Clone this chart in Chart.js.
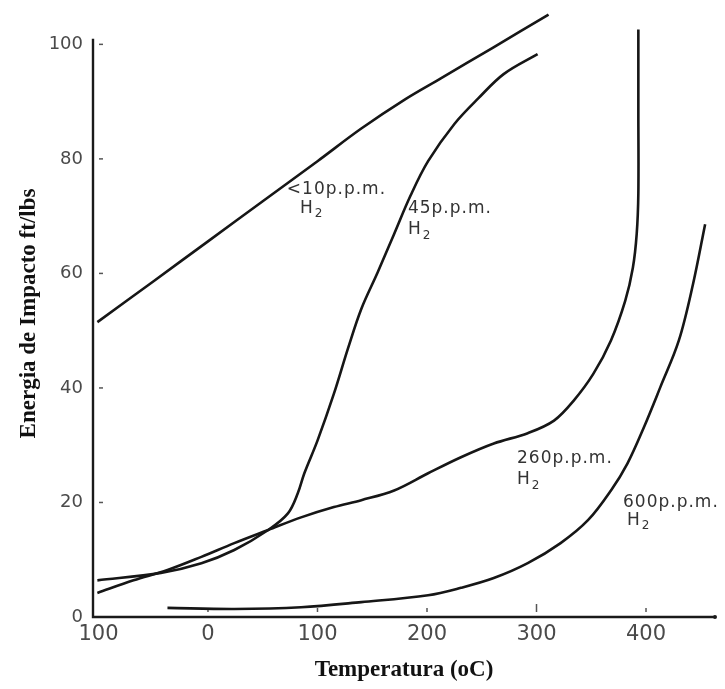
<!DOCTYPE html>
<html>
<head>
<meta charset="utf-8">
<script src="https://cdn.jsdelivr.net/npm/chart.js@4.4.1/dist/chart.umd.min.js"></script>
<style>
  html, body { margin: 0; padding: 0; background: #fff; }
  #wrap { width: 725px; height: 689px; }
</style>
</head>
<body>
<div id="wrap"><canvas id="c" width="725" height="689"></canvas></div>
<script>
// temperatura (oC) / energia (ft/lbs)
const h10 = [[-101,51.5],[-50,58.6],[0,65.6],[50,72.6],[100,79.6],[140,85.3],[180,90.4],[213,94.1],[260,99.4],[311,105.2]];
const h45 = [[-101,6.4],[-43,7.7],[-6,9.4],[24,11.7],[55,15.2],[73,18.1],[82,21.6],[88,25.1],[100,30.8],[115,39.0],[128,47.0],[140,53.8],[155,60.2],[170,66.9],[185,73.6],[201,79.6],[225,86.1],[247,90.6],[270,94.8],[301,98.3]];
const h260 = [[-101,4.2],[-68,6.4],[-37,8.2],[-6,10.5],[24,12.9],[55,15.2],[85,17.4],[115,19.2],[140,20.4],[170,22.1],[201,25.1],[231,27.9],[261,30.3],[292,32.1],[316,34.3],[334,37.8],[352,42.5],[368,48.3],[381,55.2],[388,61.0],[391.5,66.9],[393,74],[393,88],[393,102.6]];
const h600 = [[-37,1.6],[24,1.4],[85,1.7],[140,2.6],[201,3.8],[231,5.1],[261,6.8],[292,9.4],[322,12.9],[347,16.9],[368,22.1],[383,26.8],[398,33.1],[413,40.1],[430,48.3],[443,58.2],[454,68.6]];

const xTickValues = [-100, 0, 100, 200, 300, 400];
const xTickLabels = ['100', '0', '100', '200', '300', '400'];
const yTickValues = [0, 20, 40, 60, 80, 100];

// rotulos de las curvas: [texto, x, y, x de H2, y de H2]
const curveLabels = [
  ['<10p.p.m.', 72, 74.6, 84, 71.4],
  ['45p.p.m.', 182.6, 71.3, 182.6, 67.6],
  ['260p.p.m.', 282.2, 27.7, 282.2, 24.0],
  ['600p.p.m.', 379, 19.9, 382.6, 16.9]
];

const toPts = arr => arr.map(p => ({ x: p[0], y: p[1] }));
const lineStyle = { borderColor: '#161616', borderWidth: 2.6, pointRadius: 0, showLine: true, tension: 0.35, fill: false };

const decor = {
  id: 'decor',
  beforeDatasetsDraw(chart) {
    const { ctx, scales: { x, y } } = chart;
    const ax = x.left, ay = y.getPixelForValue(0);
    ctx.save();
    ctx.strokeStyle = '#1a1a1a';
    ctx.lineWidth = 2.4;
    ctx.beginPath();
    ctx.moveTo(ax, y.getPixelForValue(101));
    ctx.lineTo(ax, ay);
    ctx.lineTo(x.right, ay);
    ctx.stroke();
    ctx.fillStyle = '#1a1a1a';
    ctx.beginPath();
    ctx.arc(x.right, ay, 2, 0, Math.PI * 2);
    ctx.fill();
    // marcas cortas
    ctx.strokeStyle = '#555';
    ctx.lineWidth = 1.5;
    yTickValues.forEach(v => {
      if (v === 0) return;
      const py = y.getPixelForValue(v);
      ctx.beginPath();
      ctx.moveTo(ax + 6, py);
      ctx.lineTo(ax + 10, py);
      ctx.stroke();
    });
    xTickValues.forEach(v => {
      if (v < 0) return;
      const px = x.getPixelForValue(v);
      ctx.beginPath();
      ctx.moveTo(px, ay - 5);
      ctx.lineTo(px, ay - (v === 300 ? 13 : 9));
      ctx.stroke();
    });
    ctx.restore();
  },
  afterDatasetsDraw(chart) {
    const { ctx, scales: { x, y } } = chart;
    ctx.save();
    ctx.fillStyle = '#333';
    ctx.textBaseline = 'middle';
    ctx.textAlign = 'left';
    ctx.letterSpacing = '1px';
    curveLabels.forEach(([txt, lx, ly, hx, hy]) => {
      ctx.font = '17px "DejaVu Sans"';
      ctx.fillText(txt, x.getPixelForValue(lx), y.getPixelForValue(ly));
      const px = x.getPixelForValue(hx), py = y.getPixelForValue(hy);
      ctx.fillText('H', px, py);
      const w = ctx.measureText('H').width;
      ctx.font = '12px "DejaVu Sans"';
      ctx.fillText('2', px + w + 1, py + 6);
    });
    ctx.restore();
  }
};

new Chart(document.getElementById('c'), {
  type: 'scatter',
  data: {
    datasets: [
      { label: '<10 ppm', data: toPts(h10), ...lineStyle },
      { label: '45 ppm', data: toPts(h45), ...lineStyle },
      { label: '260 ppm', data: toPts(h260), ...lineStyle },
      { label: '600 ppm', data: toPts(h600), ...lineStyle }
    ]
  },
  options: {
    responsive: false,
    animation: false,
    layout: { padding: { top: 10, right: 10, left: 0, bottom: 0 } },
    plugins: { legend: { display: false }, tooltip: { enabled: false } },
    scales: {
      x: {
        type: 'linear', min: -105, max: 463,
        grid: { display: false, drawTicks: false },
        border: { display: false },
        afterBuildTicks: s => { s.ticks = xTickValues.map(v => ({ value: v })); },
        afterFit: s => { s.height = 72; s.paddingLeft = 0; s.paddingRight = 0; },
        ticks: {
          padding: 5, color: '#4a4a4a', font: { family: 'DejaVu Sans', size: 21 },
          callback: v => xTickLabels[xTickValues.indexOf(v)]
        },
        title: {
          display: true, text: 'Temperatura (oC)', color: '#111',
          font: { family: 'Liberation Serif', size: 23, weight: 'bold' },
          padding: { top: 0, bottom: 5 }
        }
      },
      y: {
        type: 'linear', min: 0, max: 106,
        grid: { display: false, drawTicks: false },
        border: { display: false },
        afterBuildTicks: s => { s.ticks = yTickValues.map(v => ({ value: v })); },
        afterFit: s => { s.width = 93; s.paddingTop = 0; s.paddingBottom = 0; },
        ticks: { padding: 10, color: '#4a4a4a', font: { family: 'DejaVu Sans', size: 18 } },
        title: {
          display: true, text: 'Energia de Impacto ft/lbs', color: '#111',
          font: { family: 'Liberation Serif', size: 23, weight: 'bold' },
          padding: { top: 15, bottom: 0 }
        }
      }
    }
  },
  plugins: [decor]
});
</script>
</body>
</html>
